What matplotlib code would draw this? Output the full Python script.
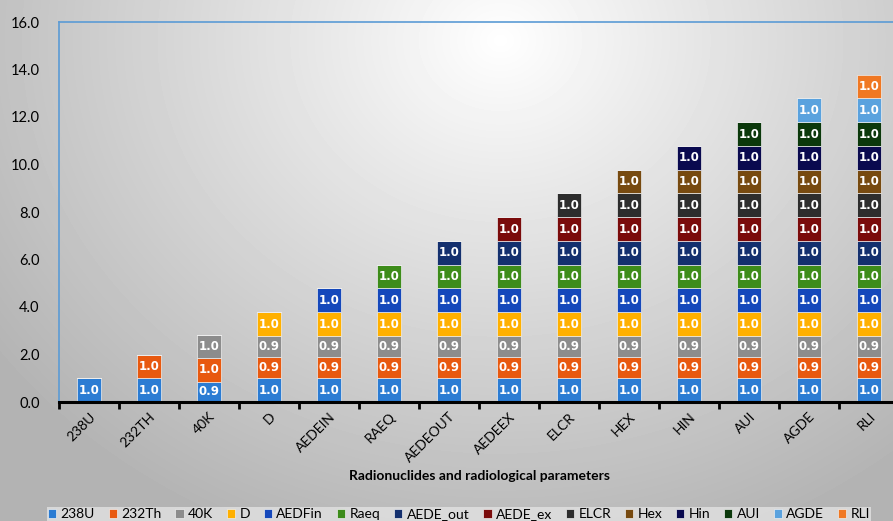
import numpy as np
import matplotlib
matplotlib.use("Agg")
import matplotlib.pyplot as plt

categories = ["238U", "232TH", "40K", "D", "AEDEIN", "RAEQ", "AEDEOUT",
              "AEDEEX", "ELCR", "HEX", "HIN", "AUI", "AGDE", "RLI"]
series = ["238U", "232Th", "40K", "D", "AEDFin", "Raeq", "AEDE_out",
          "AEDE_ex", "ELCR", "Hex", "Hin", "AUI", "AGDE", "RLI"]

# one row per series, one column per category
u238 = [1.0, 1.0, 0.86, 1.0, 1.0, 1.0, 1.0, 1.0, 1.0, 1.0, 1.0, 1.0, 1.0, 1.0]
th232 = [0, 1.0, 0.98, 0.91, 0.91, 0.91, 0.91, 0.91, 0.91, 0.91, 0.91, 0.91, 0.91, 0.91]
k40 = [0, 0, 0.99, 0.87, 0.87, 0.87, 0.87, 0.87, 0.87, 0.87, 0.87, 0.87, 0.87, 0.87]
d = [0, 0, 0, 1.0, 1.0, 1.0, 1.0, 1.0, 1.0, 1.0, 1.0, 1.0, 1.0, 1.0]
aedfin = [0, 0, 0, 0, 1.0, 1.0, 1.0, 1.0, 1.0, 1.0, 1.0, 1.0, 1.0, 1.0]
raeq = [0, 0, 0, 0, 0, 1.0, 1.0, 1.0, 1.0, 1.0, 1.0, 1.0, 1.0, 1.0]
aede_out = [0, 0, 0, 0, 0, 0, 1.0, 1.0, 1.0, 1.0, 1.0, 1.0, 1.0, 1.0]
aede_ex = [0, 0, 0, 0, 0, 0, 0, 1.0, 1.0, 1.0, 1.0, 1.0, 1.0, 1.0]
elcr = [0, 0, 0, 0, 0, 0, 0, 0, 1.0, 1.0, 1.0, 1.0, 1.0, 1.0]
hex_ = [0, 0, 0, 0, 0, 0, 0, 0, 0, 1.0, 1.0, 1.0, 1.0, 1.0]
hin = [0, 0, 0, 0, 0, 0, 0, 0, 0, 0, 1.0, 1.0, 1.0, 1.0]
aui = [0, 0, 0, 0, 0, 0, 0, 0, 0, 0, 0, 1.0, 1.0, 1.0]
agde = [0, 0, 0, 0, 0, 0, 0, 0, 0, 0, 0, 0, 1.0, 1.0]
rli = [0, 0, 0, 0, 0, 0, 0, 0, 0, 0, 0, 0, 0, 1.0]
values = [u238, th232, k40, d, aedfin, raeq, aede_out, aede_ex, elcr,
          hex_, hin, aui, agde, rli]

colors = ["#2b7cd3", "#e8590f", "#8c8c8c", "#ffb000", "#1548bb", "#3d8c1a",
          "#14306e", "#7a0b0b", "#2d2d2d", "#774a10", "#0a0a4f", "#0b380b",
          "#5aa2de", "#f07823"]

plt.rcParams["font.family"] = ["Lato", "DejaVu Sans"]

W, H = 893, 521
fig = plt.figure(figsize=(W / 100, H / 100), dpi=100)

# radial grey-white background
bg = fig.add_axes([0, 0, 1, 1], zorder=-10)
px, py = np.meshgrid(np.arange(W), np.arange(H))
dist = np.hypot((px - 500) * 0.95, (py - 40) * 1.1)
shade = np.clip(1 - 0.30 * (dist / 600) ** 0.95, 0.70, 1)
bg.imshow(shade, cmap="gray", vmin=0, vmax=1, aspect="auto",
          extent=(0, 1, 0, 1), origin="upper")
bg.axis("off")

ax = fig.add_axes([59 / W, (H - 402) / H, 840 / W, 380 / H])
ax.patch.set_alpha(0)

x = np.arange(len(categories))
bottom = np.zeros(len(categories))
handles = []
for name, vals, col in zip(series, values, colors):
    vals = np.array(vals, dtype=float)
    bars = ax.bar(x, vals, 0.39, bottom=bottom, color=col, label=name,
                  edgecolor="#eeeeee", linewidth=0.5)
    for xi, v, b in zip(x, vals, bottom):
        if v > 0:
            ax.text(xi, b + v / 2, f"{v:.1f}", ha="center", va="center",
                    color="white", fontsize=8.5, fontweight="bold",
                    family="DejaVu Sans")
    handles.append(bars)
    bottom += vals

ax.set_xlim(-0.5, 13.5)
ax.set_ylim(0, 16)
ax.set_yticks(np.arange(0, 17, 2))
ax.set_yticklabels([f"{t:.1f}" for t in np.arange(0, 17, 2)])
ax.tick_params(axis="y", length=0, pad=14, labelsize=10.5)
ax.set_xticks(x)
ax.set_xticklabels(categories, rotation=45, ha="right", rotation_mode="anchor")
ax.tick_params(axis="x", length=0, pad=6, labelsize=10)
ax.set_xticks(np.arange(-0.5, 14, 1), minor=True)
ax.tick_params(axis="x", which="minor", length=5, width=2, color="black")

for s in ["top", "left", "right"]:
    ax.spines[s].set_color("#5b9bd5")
    ax.spines[s].set_linewidth(1.2)
ax.spines["bottom"].set_linewidth(2.2)
ax.spines["bottom"].set_color("black")

ax.set_xlabel("Radionuclides and radiological parameters", fontsize=10,
              fontweight="bold", labelpad=4)

leg = fig.legend(handles=handles, loc="upper center", ncol=14,
                 bbox_to_anchor=(459 / W, (H - 500) / H), fontsize=10,
                 handlelength=0.6, handleheight=0.6, handletextpad=0.3,
                 columnspacing=1.0, frameon=True, fancybox=False,
                 borderpad=0.1)
leg.get_frame().set_facecolor("#e2e2e2")
leg.get_frame().set_edgecolor("none")
leg.get_frame().set_alpha(0.8)

fig.savefig("out.png", dpi=100)
